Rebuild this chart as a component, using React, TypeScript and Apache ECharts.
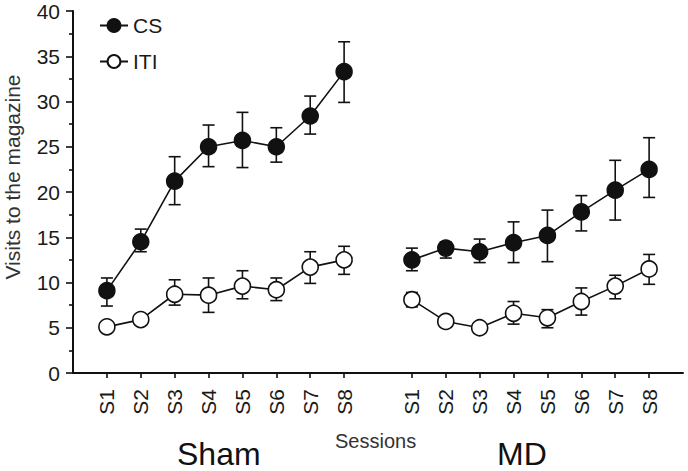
import React, { useEffect, useRef } from "react";
import * as echarts from "echarts";

const categories = ["", "S1", "S2", "S3", "S4", "S5", "S6", "S7", "S8", "", "S1", "S2", "S3", "S4", "S5", "S6", "S7", "S8", ""];
const yTicks = [0, 5, 10, 15, 20, 25, 30, 35, 40];

const csSham = [9.1, 14.5, 21.2, 25.0, 25.7, 25.0, 28.4, 33.3];
const csShamLow = [7.4, 13.4, 18.6, 22.8, 22.7, 23.3, 26.4, 29.9];
const csShamHigh = [10.5, 15.9, 23.9, 27.4, 28.8, 27.1, 30.6, 36.6];
const itiSham = [5.1, 5.9, 8.7, 8.6, 9.6, 9.2, 11.7, 12.5];
const itiShamLow = [4.6, 5.3, 7.5, 6.7, 8.2, 8.0, 9.9, 10.9];
const itiShamHigh = [5.5, 6.4, 10.3, 10.5, 11.3, 10.5, 13.4, 14.0];
const csMD = [12.5, 13.8, 13.4, 14.4, 15.2, 17.8, 20.2, 22.5];
const csMDLow = [11.3, 12.7, 12.2, 12.2, 12.3, 15.7, 16.9, 19.4];
const csMDHigh = [13.8, 14.5, 14.8, 16.7, 18.0, 19.6, 23.5, 26.0];
const itiMD = [8.1, 5.7, 5.0, 6.6, 6.1, 7.9, 9.6, 11.5];
const itiMDLow = [7.3, 5.2, 4.5, 5.4, 5.0, 6.4, 8.2, 9.8];
const itiMDHigh = [8.9, 6.2, 5.5, 7.9, 7.0, 9.4, 10.8, 13.1];

const shamStart = 1;
const mdStart = 10;
const FONT = "Liberation Sans, Arial, sans-serif";

function lineData(sham: number[], md: number[]) {
  const out: any[] = [];
  for (let i = 0; i < categories.length; i++) out.push([i, null]);
  sham.forEach((v, i) => (out[shamStart + i] = [shamStart + i, v]));
  md.forEach((v, i) => (out[mdStart + i] = [mdStart + i, v]));
  return out;
}

function errData(shamLo: number[], shamHi: number[], mdLo: number[], mdHi: number[]) {
  const out: number[][] = [];
  shamLo.forEach((v, i) => out.push([shamStart + i, v, shamHi[i]]));
  mdLo.forEach((v, i) => out.push([mdStart + i, v, mdHi[i]]));
  return out;
}

function renderErr(params: any, api: any) {
  const x = api.value(0);
  const lo = api.coord([x, api.value(1)]);
  const hi = api.coord([x, api.value(2)]);
  const hw = 6;
  const style = { stroke: "#111", lineWidth: 1.6 };
  return {
    type: "group",
    children: [
      { type: "line", shape: { x1: lo[0], y1: lo[1], x2: hi[0], y2: hi[1] }, style },
      { type: "line", shape: { x1: lo[0] - hw, y1: lo[1], x2: lo[0] + hw, y2: lo[1] }, style },
      { type: "line", shape: { x1: hi[0] - hw, y1: hi[1], x2: hi[0] + hw, y2: hi[1] }, style },
    ],
  };
}

export default function App() {
  const ref = useRef<HTMLDivElement>(null);
  useEffect(() => {
    if (!ref.current) return;
    const chart = echarts.init(ref.current, null, { renderer: "svg" });
    chart.setOption({
      animation: false,
      textStyle: { fontFamily: FONT },
      grid: { left: 73, right: 5, top: 11, bottom: 98, containLabel: false },
      legend: {
        data: ["CS", "ITI"],
        orient: "vertical",
        left: 94,
        top: 10,
        itemWidth: 28,
        itemHeight: 16,
        itemGap: 15,
        textStyle: { fontSize: 21, color: "#1a1a1a", fontFamily: FONT },
      },
      xAxis: {
        type: "category",
        data: categories,
        boundaryGap: false,
        axisLine: { lineStyle: { color: "#111", width: 2 } },
        axisTick: {
          length: 5,
          interval: (index: number, value: string) => value !== "",
          lineStyle: { color: "#111", width: 1.6 },
        },
        axisLabel: {
          interval: 0,
          rotate: 90,
          fontSize: 21,
          color: "#1a1a1a",
          margin: 16,
          fontFamily: FONT,
        },
        splitLine: { show: false },
      },
      yAxis: {
        type: "value",
        min: yTicks[0],
        max: yTicks[yTicks.length - 1],
        interval: 5,
        axisLine: { show: true, lineStyle: { color: "#111", width: 2 } },
        axisTick: { show: true, length: 7, lineStyle: { color: "#111", width: 1.6 } },
        minorTick: { show: true, splitNumber: 2, length: 4, lineStyle: { color: "#111", width: 1.6 } },
        axisLabel: { fontSize: 21, color: "#1a1a1a", margin: 13, fontFamily: FONT },
        splitLine: { show: false },
      },
      graphic: [
        {
          type: "text",
          x: 12,
          y: 177,
          rotation: Math.PI / 2,
          style: {
            text: "Visits to the magazine",
            fontSize: 21,
            fill: "#333",
            fontFamily: FONT,
            textAlign: "center",
            textVerticalAlign: "middle",
          },
        },
        { type: "text", left: 177, top: 438, style: { text: "Sham", fontSize: 32, fill: "#111", fontFamily: FONT } },
        { type: "text", left: 335, top: 431, style: { text: "Sessions", fontSize: 20, fill: "#333", fontFamily: FONT } },
        { type: "text", left: 497, top: 438, style: { text: "MD", fontSize: 32, fill: "#111", fontFamily: FONT } },
      ],
      series: [
        {
          name: "CS err",
          type: "custom",
          renderItem: renderErr,
          data: errData(csShamLow, csShamHigh, csMDLow, csMDHigh),
          encode: { x: 0, y: [1, 2] },
          z: 1,
          silent: true,
        },
        {
          name: "ITI err",
          type: "custom",
          renderItem: renderErr,
          data: errData(itiShamLow, itiShamHigh, itiMDLow, itiMDHigh),
          encode: { x: 0, y: [1, 2] },
          z: 1,
          silent: true,
        },
        {
          name: "CS",
          type: "line",
          data: lineData(csSham, csMD),
          connectNulls: false,
          symbol: "circle",
          symbolSize: 16,
          showAllSymbol: true,
          lineStyle: { color: "#111", width: 1.6 },
          itemStyle: { color: "#111", borderColor: "#111", borderWidth: 1.5 },
          z: 3,
        },
        {
          name: "ITI",
          type: "line",
          data: lineData(itiSham, itiMD),
          connectNulls: false,
          symbol: "circle",
          symbolSize: 16,
          showAllSymbol: true,
          lineStyle: { color: "#111", width: 1.6 },
          itemStyle: { color: "#fff", borderColor: "#111", borderWidth: 1.6 },
          z: 3,
        },
      ],
    });
    return () => chart.dispose();
  }, []);
  return <div ref={ref} style={{ width: 688, height: 471, position: "absolute", left: 0, top: 0 }} />;
}
